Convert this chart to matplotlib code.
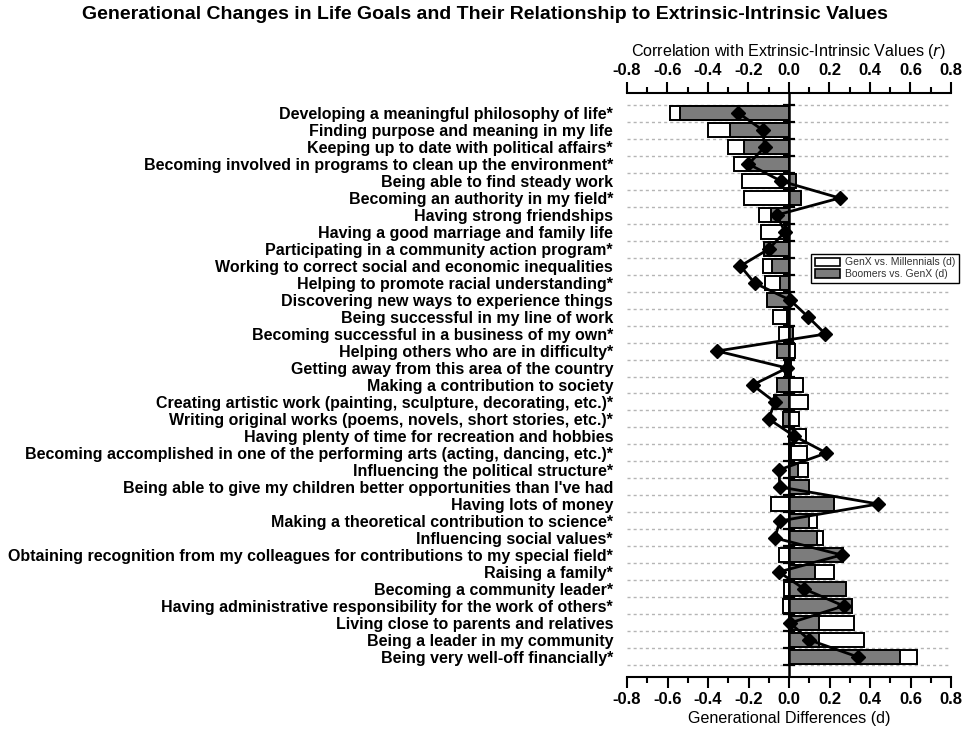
"""Life goals: generational differences (d, bars) and correlation with
extrinsic-intrinsic values (r, diamonds), one row per goal."""

import matplotlib

matplotlib.use("Agg")
import matplotlib.pyplot as plt
import numpy as np
from matplotlib.patches import Patch

plt.rcParams["font.family"] = ["Liberation Sans", "DejaVu Sans"]
plt.rcParams["axes.unicode_minus"] = False

GOALS = [
    "Developing a meaningful philosophy of life*",
    "Finding purpose and meaning in my life",
    "Keeping up to date with political affairs*",
    "Becoming involved in programs to clean up the environment*",
    "Being able to find steady work",
    "Becoming an authority in my field*",
    "Having strong friendships",
    "Having a good marriage and family life",
    "Participating in a community action program*",
    "Working to correct social and economic inequalities",
    "Helping to promote racial understanding*",
    "Discovering new ways to experience things",
    "Being successful in my line of work",
    "Becoming successful in a business of my own*",
    "Helping others who are in difficulty*",
    "Getting away from this area of the country",
    "Making a contribution to society",
    "Creating artistic work (painting, sculpture, decorating, etc.)*",
    "Writing original works (poems, novels, short stories, etc.)*",
    "Having plenty of time for recreation and hobbies",
    "Becoming accomplished in one of the performing arts (acting, dancing, etc.)*",
    "Influencing the political structure*",
    "Being able to give my children better opportunities than I've had",
    "Having lots of money",
    "Making a theoretical contribution to science*",
    "Influencing social values*",
    "Obtaining recognition from my colleagues for contributions to my special field*",
    "Raising a family*",
    "Becoming a community leader*",
    "Having administrative responsibility for the work of others*",
    "Living close to parents and relatives",
    "Being a leader in my community",
    "Being very well-off financially*",
]

# GenX vs. Millennials (d) -- white bars
genx_mill = [-0.59, -0.40, -0.30, -0.27, -0.23, -0.22, -0.15, -0.14, -0.09, -0.13,
             -0.12, -0.07, -0.08, -0.05, 0.03, 0.01, 0.07, 0.095, 0.05, 0.085,
             0.09, 0.093, 0.04, -0.09, 0.14, 0.17, -0.05, 0.22, -0.025, -0.03,
             0.32, 0.37, 0.63]
# Boomers vs. GenX (d) -- grey bars
boom_genx = [-0.54, -0.29, -0.22, -0.20, 0.035, 0.06, -0.09, -0.02, -0.125, -0.085,
             -0.045, -0.11, -0.01, 0.02, -0.06, -0.02, -0.06, -0.075, -0.03, 0.02,
             0.01, 0.045, 0.10, 0.22, 0.10, 0.14, 0.265, 0.13, 0.28, 0.31,
             0.15, 0.15, 0.55]
# correlation with extrinsic-intrinsic values (r) -- diamonds
corr_r = [-0.25, -0.13, -0.12, -0.20, -0.04, 0.25, -0.06, -0.02, -0.10, -0.24,
          -0.17, 0.005, 0.095, 0.18, -0.355, -0.01, -0.18, -0.07, -0.10, 0.025,
          0.185, -0.05, -0.045, 0.44, -0.045, -0.07, 0.26, -0.05, 0.075, 0.27,
          0.005, 0.10, 0.34]

X_TICKS = [-0.8, -0.6, -0.4, -0.2, 0.0, 0.2, 0.4, 0.6, 0.8]
X_TICK_LABELS = ["-0.8", "-0.6", "-0.4", "-0.2", "0.0", "0.2", "0.4", "0.6", "0.8"]
GREY = "#7c7c7c"

fig = plt.figure(figsize=(9.69, 7.30), dpi=100)
ax = fig.add_axes([627 / 969, 1 - 677 / 730, 324 / 969, 584 / 730])

n = len(GOALS)
y = np.arange(n)
edges = np.arange(n + 1) - 0.5

for e in edges:
    ax.axhline(e, color="#b5b5b5", lw=1.0, ls=(0, (2.2, 2.2)), zorder=0)

ax.barh(y, genx_mill, height=0.85, color="white", edgecolor="black", lw=1.4, zorder=2)
ax.barh(y, boom_genx, height=0.85, color=GREY, edgecolor="black", lw=1.4, zorder=2.5)
ax.axvline(0, color="black", lw=1.8, zorder=3)
ax.plot(np.zeros(len(edges)), edges, ls="none", marker="_", ms=9, mew=1.6,
        color="black", zorder=3)

ax.set_xlim(-0.8, 0.8)
ax.set_ylim(n - 1 + 1.18, -1.18)
ax.set_yticks(y)
ax.set_yticklabels(GOALS, fontsize=11.5, fontweight="bold")
ax.tick_params(axis="y", length=0, pad=10)
ax.set_xticks(X_TICKS)
ax.set_xticklabels(X_TICK_LABELS, fontsize=12, fontweight="bold")
ax.set_xticks(np.arange(-0.7, 0.8, 0.2), minor=True)
ax.tick_params(axis="x", which="major", direction="out", length=8, width=1.5, pad=3)
ax.tick_params(axis="x", which="minor", direction="out", length=4, width=1.5)
ax.set_xlabel("Generational Differences (d)", fontsize=11.6, labelpad=3)
for s in ("left", "right", "top"):
    ax.spines[s].set_visible(False)
ax.spines["bottom"].set_linewidth(1.5)

top = ax.twiny()
top.set_xlim(-0.8, 0.8)
top.plot(corr_r, y, color="black", lw=2.0, marker="D", ms=7, zorder=4)
top.set_xticks(X_TICKS)
top.set_xticklabels(X_TICK_LABELS, fontsize=12, fontweight="bold")
top.set_xticks(np.arange(-0.7, 0.8, 0.2), minor=True)
top.tick_params(axis="x", which="major", direction="out", length=8, width=1.5, pad=3)
top.tick_params(axis="x", which="minor", direction="out", length=4, width=1.5)
top.set_xlabel("Correlation with Extrinsic-Intrinsic Values ($\\it{r}$)", fontsize=11.6,
               labelpad=5)
for s in ("left", "right", "bottom"):
    top.spines[s].set_visible(False)
top.spines["top"].set_linewidth(1.5)

handles = [Patch(facecolor="white", edgecolor="black", lw=1.2),
           Patch(facecolor=GREY, edgecolor="black", lw=1.2)]
leg = top.legend(handles, ["GenX vs. Millennials (d)", "Boomers vs. GenX (d)"],
                 loc="center right", bbox_to_anchor=(1.025, 0.70), fontsize=7.5,
                 frameon=True, fancybox=False, framealpha=1, edgecolor="black",
                 handlelength=2.4, handleheight=0.9, labelspacing=0.15,
                 borderpad=0.35, handletextpad=0.5, borderaxespad=0)
leg.get_frame().set_linewidth(1.0)
for t in leg.get_texts():
    t.set_color("#333333")

fig.suptitle("Generational Changes in Life Goals and Their Relationship to "
             "Extrinsic-Intrinsic Values", fontsize=14, fontweight="bold",
             x=0.5, y=0.992, va="top")

fig.savefig("out.png", dpi=100)
